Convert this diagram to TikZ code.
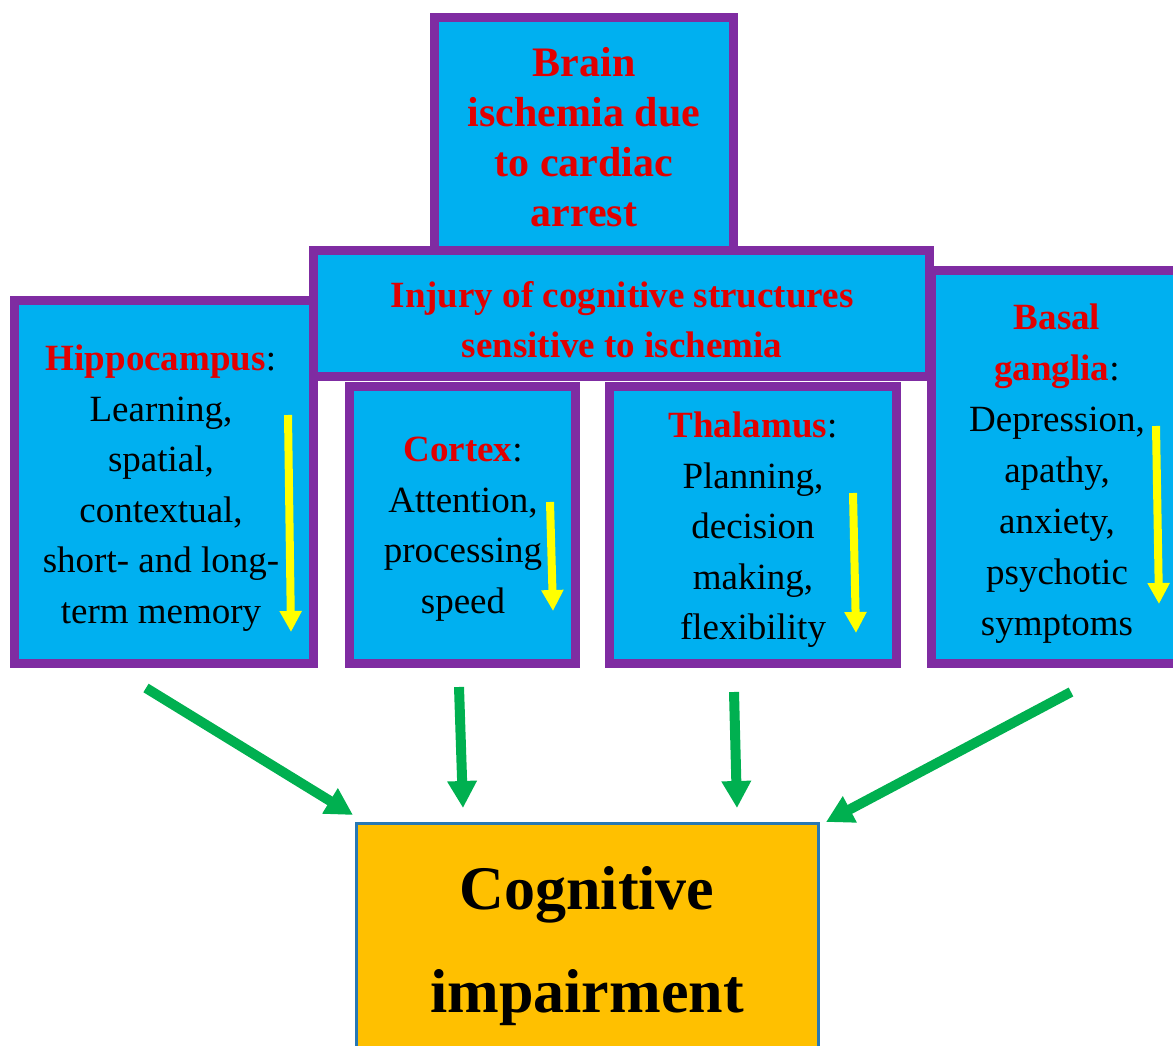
\documentclass[tikz,border=0pt]{standalone}
\usepackage{fontspec}
\setmainfont{Liberation Serif}
\usetikzlibrary{arrows.meta}
\definecolor{boxblue}{HTML}{00B0F0}
\definecolor{boxpurple}{HTML}{7F2CA2}
\definecolor{txtred}{HTML}{E10000}
\definecolor{arrowgreen}{HTML}{00B050}
\definecolor{arrowyellow}{HTML}{FFFF00}
\definecolor{cogorange}{HTML}{FFC000}
\definecolor{cogborder}{HTML}{2878B5}
\newcommand{\redbf}[1]{\textcolor{txtred}{\textbf{#1}}}
\begin{document}
\begin{tikzpicture}[x=1pt,y=-1pt,
  region/.style={draw=boxpurple, fill=boxblue, line width=9pt, inner sep=0pt},
  cogbox/.style={draw=cogborder, fill=cogorange, line width=3pt, inner sep=0pt},
  bodytext/.style={align=center, text=black, font=\fontsize{37}{50.5}\selectfont, inner sep=0pt},
  toptext/.style={align=center, text=txtred, font=\bfseries\fontsize{42}{50}\selectfont, inner sep=0pt},
  injtext/.style={align=center, text=txtred, font=\bfseries\fontsize{37}{50}\selectfont, inner sep=0pt},
  cogtext/.style={align=center, text=black, font=\bfseries\fontsize{62}{103}\selectfont, inner sep=0pt},
  ylw/.style={draw=arrowyellow, line width=8pt, -{Triangle[width=21pt,length=21pt]}},
  grn/.style={draw=arrowgreen, line width=10pt, -{Triangle[width=28pt,length=27pt]}}]
\useasboundingbox (0,0) rectangle (1173,1046);
\clip (0,0) rectangle (1173,1046);

% boxes
\node[region, minimum width=299pt, minimum height=363pt] (hippo) at (164,482) {};
\node[region, minimum width=299pt, minimum height=240pt] (brain) at (584,137.5) {};
\node[region, minimum width=226pt, minimum height=277pt] (cortex) at (462.5,525) {};
\node[region, minimum width=287pt, minimum height=277pt] (thal) at (753,525) {};
\node[region, minimum width=616pt, minimum height=126pt] (injury) at (621.5,313.5) {};
\node[region, minimum width=252pt, minimum height=393pt] (basal) at (1057.5,467) {};
\node[cogbox, minimum width=462pt, minimum height=245pt] (cog) at (587.5,946) {};

% texts
\node[toptext] (brainT) at (584,137) {Brain\\ischemia due\\to cardiac\\arrest};
\node[injtext] (injT) at (622,320) {Injury of cognitive structures\\sensitive to ischemia};
\node[bodytext] (hipT) at (161,488) {\redbf{Hippocampus}:\\Learning,\\spatial,\\contextual,\\short- and long-\\term memory};
\node[bodytext] (corT) at (463,529) {\redbf{Cortex}:\\Attention,\\processing\\speed};
\node[bodytext] (thaT) at (753,530) {\redbf{Thalamus}:\\Planning,\\decision\\making,\\flexibility};
\node[bodytext, font=\fontsize{37}{51}\selectfont] (basT) at (1057,474) {\redbf{Basal}\\\redbf{ganglia}:\\Depression,\\apathy,\\anxiety,\\psychotic\\symptoms};
\node[cogtext] (cogT) at (587,946) {Cognitive\\impairment};

% yellow arrows
\coordinate (y1a) at (288,415); \coordinate (y1b) at (291,632);
\coordinate (y2a) at (550,502); \coordinate (y2b) at (553,611);
\coordinate (y3a) at (853,493); \coordinate (y3b) at (856,633);
\coordinate (y4a) at (1156,426); \coordinate (y4b) at (1159,604);
\draw[ylw] (y1a) -- (y1b);
\draw[ylw] (y2a) -- (y2b);
\draw[ylw] (y3a) -- (y3b);
\draw[ylw] (y4a) -- (y4b);

% green arrows
\coordinate (g1a) at (146,688); \coordinate (g1b) at (353,815);
\coordinate (g2a) at (459,687); \coordinate (g2b) at (463,808);
\coordinate (g3a) at (734,692); \coordinate (g3b) at (737,808);
\coordinate (g4a) at (1071,692); \coordinate (g4b) at (826,822);
\draw[grn] (g1a) -- (g1b);
\draw[grn] (g2a) -- (g2b);
\draw[grn] (g3a) -- (g3b);
\draw[grn] (g4a) -- (g4b);
\end{tikzpicture}
\end{document}
